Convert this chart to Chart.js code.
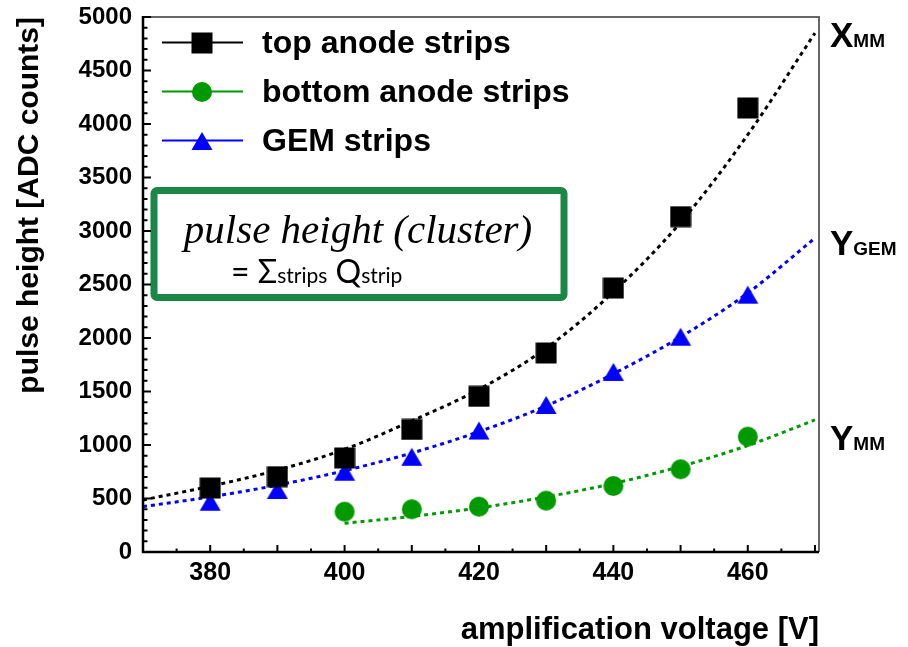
<!DOCTYPE html>
<html>
<head>
<meta charset="utf-8">
<script src="https://cdn.jsdelivr.net/npm/chart.js@4"></script>
<style>
  html, body { margin: 0; padding: 0; background: #fff; }
  canvas { display: block; }
</style>
</head>
<body>
<canvas id="chart" width="908" height="647"></canvas>
<script>
// measured points
const voltages = [380, 390, 400, 410, 420, 430, 440, 450, 460];
const topAnode = [598, 704, 879, 1145, 1455, 1860, 2467, 3134, 4150];
const gemStrips = [470, 580, 750, 890, 1135, 1374, 1683, 2012, 2405];
const bottomVoltages = [400, 410, 420, 430, 440, 450, 460];
const bottomAnode = [377, 399, 424, 480, 617, 773, 1078];

// fit curves
const fitVoltages = [370, 380, 390, 400, 410, 420, 430, 440, 450, 460, 470];
const topFit = [486, 615, 765, 960, 1225, 1520, 1905, 2430, 3080, 3900, 4850];
const gemFit = [424, 515, 625, 760, 925, 1125, 1365, 1665, 2010, 2420, 2934];
const bottomFitVoltages = [400, 410, 420, 430, 440, 450, 460, 470];
const bottomFit = [268, 333, 412, 515, 640, 800, 995, 1234];

const xTickLabels = [380, 400, 420, 440, 460];
const yTickLabels = [0, 500, 1000, 1500, 2000, 2500, 3000, 3500, 4000, 4500, 5000];

const BLACK = '#000000';
const GREEN = '#009900';
const BLUE = '#0000ff';
const SANS = '"Liberation Sans", Arial, sans-serif';

function makeMarker(kind, color) {
    const c = document.createElement('canvas');
    c.width = 22;
    c.height = 22;
    const g = c.getContext('2d');
    g.fillStyle = color;
    g.beginPath();
    if (kind === 'square') {
        g.rect(0.5, 0.5, 21, 21);
    } else if (kind === 'circle') {
        g.arc(11, 11, 10, 0, Math.PI * 2);
    } else {
        g.moveTo(11, 2);
        g.lineTo(21.5, 20);
        g.lineTo(0.5, 20);
        g.closePath();
    }
    g.fill();
    return c;
}

const squareImg = makeMarker('square', BLACK);
const circleImg = makeMarker('circle', GREEN);
const triangleImg = makeMarker('triangle', BLUE);

function pairs(xs, ys) {
    return xs.map((x, i) => ({ x: x, y: ys[i] }));
}

function markerSet(label, xs, ys, img) {
    return {
        label: label,
        data: pairs(xs, ys),
        showLine: false,
        pointStyle: img,
        pointRadius: 11,
        order: 0
    };
}

function fitSet(xs, ys, color) {
    return {
        data: pairs(xs, ys),
        showLine: true,
        borderColor: color,
        borderWidth: 3,
        borderDash: [4, 4],
        pointRadius: 0,
        cubicInterpolationMode: 'monotone',
        order: 1
    };
}

const legendItems = [
    { text: 'top anode strips', color: BLACK, img: squareImg },
    { text: 'bottom anode strips', color: GREEN, img: circleImg },
    { text: 'GEM strips', color: BLUE, img: triangleImg }
];

const decorations = {
    id: 'decorations',
    afterDatasetsDraw(chart) {
        const { ctx } = chart;
        ctx.save();

        // formula box
        ctx.fillStyle = '#ffffff';
        ctx.strokeStyle = '#1a8747';
        ctx.lineWidth = 7;
        ctx.beginPath();
        ctx.roundRect(154, 190.5, 410, 107, 3);
        ctx.fill();
        ctx.stroke();

        ctx.fillStyle = BLACK;
        ctx.textBaseline = 'alphabetic';
        ctx.textAlign = 'center';
        ctx.font = 'italic 41px "Liberation Serif", serif';
        ctx.fillText('pulse height (cluster)', 358, 243);

        ctx.textAlign = 'left';
        let x = 231;
        const base = 283;
        const main = '32px Lato, sans-serif';
        const sub = '21px Lato, sans-serif';
        const pieces = [['= \u03A3', main], ['strips', sub], [' Q', main], ['strip', sub]];
        pieces.forEach(([t, f]) => {
            ctx.font = f;
            ctx.fillText(t, x, base);
            x += ctx.measureText(t).width;
        });

        // legend
        legendItems.forEach((item, i) => {
            const y = 42.5 + i * 49;
            ctx.strokeStyle = item.color;
            ctx.lineWidth = 2;
            ctx.beginPath();
            ctx.moveTo(162, y);
            ctx.lineTo(243, y);
            ctx.stroke();
            ctx.drawImage(item.img, 202 - 11, Math.round(y) - 11);
            ctx.fillStyle = BLACK;
            ctx.font = 'bold 32px ' + SANS;
            ctx.fillText(item.text, 262, y + 10.5);
        });

        // labels right of the frame
        const sideLabels = [['X', 'MM', 46.5], ['Y', 'GEM', 255], ['Y', 'MM', 450]];
        sideLabels.forEach(([big, small, y]) => {
            ctx.font = 'bold 35px ' + SANS;
            ctx.fillText(big, 830, y);
            const w = ctx.measureText(big).width;
            ctx.font = 'bold 19px ' + SANS;
            ctx.fillText(small, 830 + w, y);
        });

        ctx.restore();
    },
    afterDraw(chart) {
        const { ctx, chartArea: a, scales } = chart;
        ctx.save();

        // frame
        ctx.strokeStyle = '#666666';
        ctx.lineWidth = 2;
        ctx.beginPath();
        ctx.moveTo(a.left, a.top);
        ctx.lineTo(a.right, a.top);
        ctx.lineTo(a.right, a.bottom);
        ctx.stroke();

        ctx.strokeStyle = BLACK;
        ctx.lineWidth = 2.5;
        ctx.beginPath();
        ctx.moveTo(a.left, a.top - 1);
        ctx.lineTo(a.left, a.bottom);
        ctx.lineTo(a.right, a.bottom);
        ctx.stroke();

        // inward ticks
        ctx.lineWidth = 2;
        ctx.beginPath();
        for (let v = 0; v <= 5000; v += 100) {
            const py = scales.y.getPixelForValue(v);
            const len = v % 500 === 0 ? 8 : 4.5;
            ctx.moveTo(a.left, py);
            ctx.lineTo(a.left + len, py);
        }
        for (let v = 370; v <= 470; v += 5) {
            const px = scales.x.getPixelForValue(v);
            const len = v % 10 === 0 ? 7 : 3.5;
            ctx.moveTo(px, a.bottom);
            ctx.lineTo(px, a.bottom - len);
        }
        ctx.stroke();
        ctx.restore();
    }
};

new Chart(document.getElementById('chart'), {
    type: 'scatter',
    data: {
        datasets: [
            markerSet('top anode strips', voltages, topAnode, squareImg),
            markerSet('GEM strips', voltages, gemStrips, triangleImg),
            markerSet('bottom anode strips', bottomVoltages, bottomAnode, circleImg),
            fitSet(fitVoltages, topFit, BLACK),
            fitSet(fitVoltages, gemFit, BLUE),
            fitSet(bottomFitVoltages, bottomFit, GREEN)
        ]
    },
    options: {
        responsive: false,
        animation: false,
        layout: { padding: { left: 0, right: 89, top: 17, bottom: 0 } },
        plugins: {
            legend: { display: false },
            tooltip: { enabled: false }
        },
        scales: {
            x: {
                type: 'linear',
                min: 370,
                max: 470.6,
                afterBuildTicks: s => { s.ticks = xTickLabels.map(v => ({ value: v })); },
                afterFit: s => {
                    s.height = 95;
                    s.paddingLeft = 0;
                    s.paddingRight = 0;
                },
                grid: { display: false, drawTicks: false },
                border: { display: false },
                ticks: {
                    color: BLACK,
                    font: { family: SANS, size: 25, weight: 'bold' },
                    padding: 6,
                    maxRotation: 0,
                    autoSkip: false,
                    callback: v => String(v)
                },
                title: {
                    display: true,
                    text: 'amplification voltage [V]',
                    align: 'end',
                    color: BLACK,
                    font: { family: SANS, size: 31, weight: 'bold', lineHeight: 1 },
                    padding: { top: 0, bottom: 1 }
                }
            },
            y: {
                type: 'linear',
                min: 0,
                max: 5000,
                afterBuildTicks: s => { s.ticks = yTickLabels.map(v => ({ value: v })); },
                afterFit: s => {
                    s.width = 143;
                    s.paddingTop = 0;
                    s.paddingBottom = 0;
                },
                grid: { display: false, drawTicks: false },
                border: { display: false },
                ticks: {
                    color: BLACK,
                    font: { family: SANS, size: 24, weight: 'bold' },
                    padding: 11,
                    autoSkip: false,
                    callback: v => String(v)
                },
                title: {
                    display: true,
                    text: 'pulse height [ADC counts]',
                    align: 'end',
                    color: BLACK,
                    font: { family: SANS, size: 30, weight: 'bold', lineHeight: 1 },
                    padding: { top: 15, bottom: 0 }
                }
            }
        }
    },
    plugins: [decorations]
});
</script>
</body>
</html>
